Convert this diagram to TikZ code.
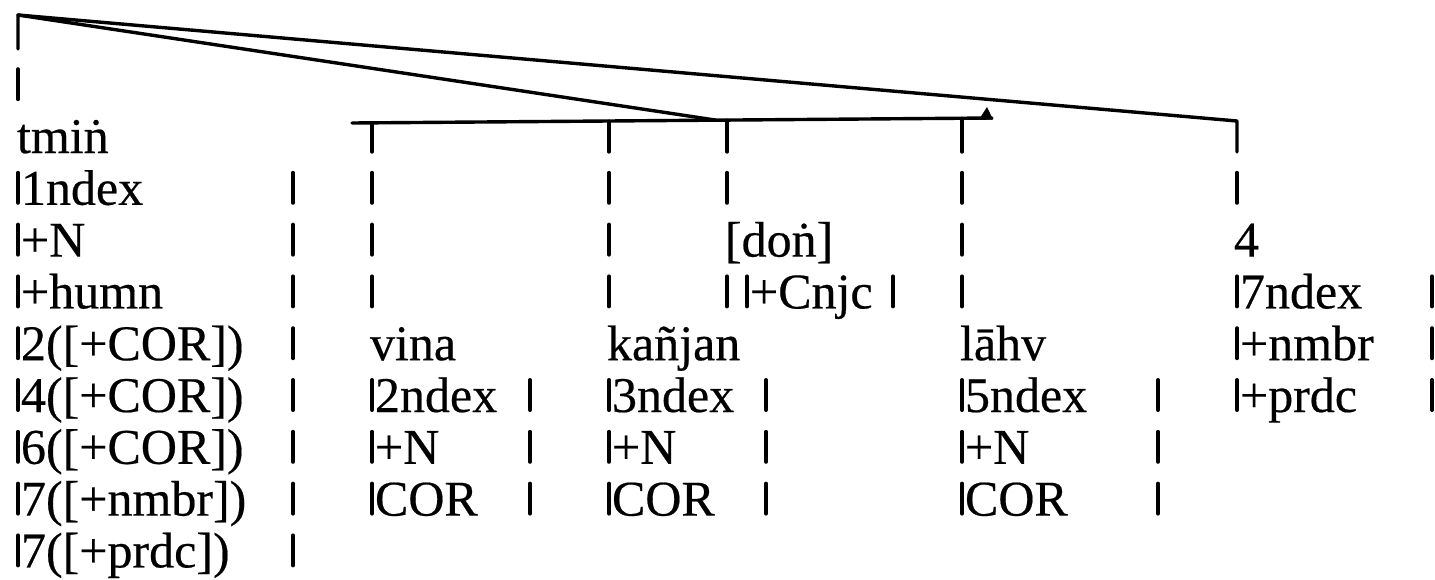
\documentclass[tikz,border=0pt]{standalone}
\usepackage{fontspec}
\setmainfont{Liberation Serif}[FakeBold=0.4]
\tikzset{
  txt/.style={anchor=base west, inner sep=0pt, outer sep=0pt, font=\fontsize{25pt}{25pt}\selectfont},
  barline/.style={line width=2pt, line cap=round},
  treeline/.style={line width=1.7pt, line cap=round, line join=round},
}
% baseline of row k (pixels): 153 + 51.8 k
\newcommand\vbr[2]{\draw[barline] (#1,{153+51.8*(#2)-32}) -- (#1,{153+51.8*(#2)-2});}
\newcommand\rtxt[4]{\node[txt] (#1) at (#2,{153+51.8*(#3)}) {#4};}
\begin{document}
\begin{tikzpicture}[x=0.5pt,y=-0.5pt]
\useasboundingbox (0,0) rectangle (1435,579);
% tree coordinates
\coordinate (root) at (18,15);
\coordinate (rootdown) at (18,49);
\coordinate (hl) at (352,123);
\coordinate (hr) at (992,118);
\coordinate (join) at (715,120);
\coordinate (fcorner) at (1237,121);
\coordinate (ftick) at (1237,152);
\coordinate (tb) at (372,122.7);
\coordinate (tbe) at (372,152);
\coordinate (tc) at (609,121.2);
\coordinate (tce) at (609,152);
\coordinate (td) at (727,120.2);
\coordinate (tde) at (727,152);
\coordinate (te) at (962,118.4);
\coordinate (tee) at (962,152);
% connectors
\draw[treeline] (rootdown) -- (root) -- (join);
\draw[treeline] (root) -- (fcorner) [rounded corners=3pt] -- (ftick);
\draw[treeline] (hl) -- (hr);
\fill (979,119.5) -- (987,107) -- (993,119.5) -- cycle;
\draw[treeline] (tb) -- (tbe);
\draw[treeline] (tc) -- (tce);
\draw[treeline] (td) -- (tde);
\draw[treeline] (te) -- (tee);
% column A
\vbr{18}{-1}
\rtxt{tmin}{17}{0}{tmiṅ}
\foreach \k/\t in {1/1ndex,2/+N,3/+humn,4/2([+COR]),5/4([+COR]),6/6([+COR]),7/7([+nmbr]),8/7([+prdc])}{
  \vbr{18}{\k}\vbr{293}{\k}
  \node[txt] (a\k) at (21,{153+51.8*\k}) {\t};
}
% column B
\foreach \k in {1,2,3}{\vbr{372}{\k}}
\rtxt{vina}{370}{4}{vina}
\foreach \k/\t in {5/2ndex,6/+N,7/COR}{
  \vbr{372}{\k}\vbr{530}{\k}
  \node[txt] (b\k) at (375,{153+51.8*\k}) {\t};
}
% column C
\foreach \k in {1,2,3}{\vbr{609}{\k}}
\rtxt{kanjan}{607}{4}{kañjan}
\foreach \k/\t in {5/3ndex,6/+N,7/COR}{
  \vbr{609}{\k}\vbr{766}{\k}
  \node[txt] (c\k) at (612,{153+51.8*\k}) {\t};
}
% column D
\vbr{727}{1}
\rtxt{don}{725}{2}{[doṅ]}
\vbr{727}{3}\vbr{747}{3}\vbr{893}{3}
\rtxt{cnjc}{750}{3}{+Cnjc}
% column E
\foreach \k in {1,2,3}{\vbr{962}{\k}}
\rtxt{lahv}{960}{4}{lāhv}
\foreach \k/\t in {5/5ndex,6/+N,7/COR}{
  \vbr{962}{\k}\vbr{1158}{\k}
  \node[txt] (e\k) at (965,{153+51.8*\k}) {\t};
}
% column F
\vbr{1237}{1}
\rtxt{four}{1234}{2}{4}
\foreach \k/\t in {3/7ndex,4/+nmbr,5/+prdc}{
  \vbr{1237}{\k}\vbr{1432}{\k}
  \node[txt] (f\k) at (1240,{153+51.8*\k}) {\t};
}
\end{tikzpicture}
\end{document}
